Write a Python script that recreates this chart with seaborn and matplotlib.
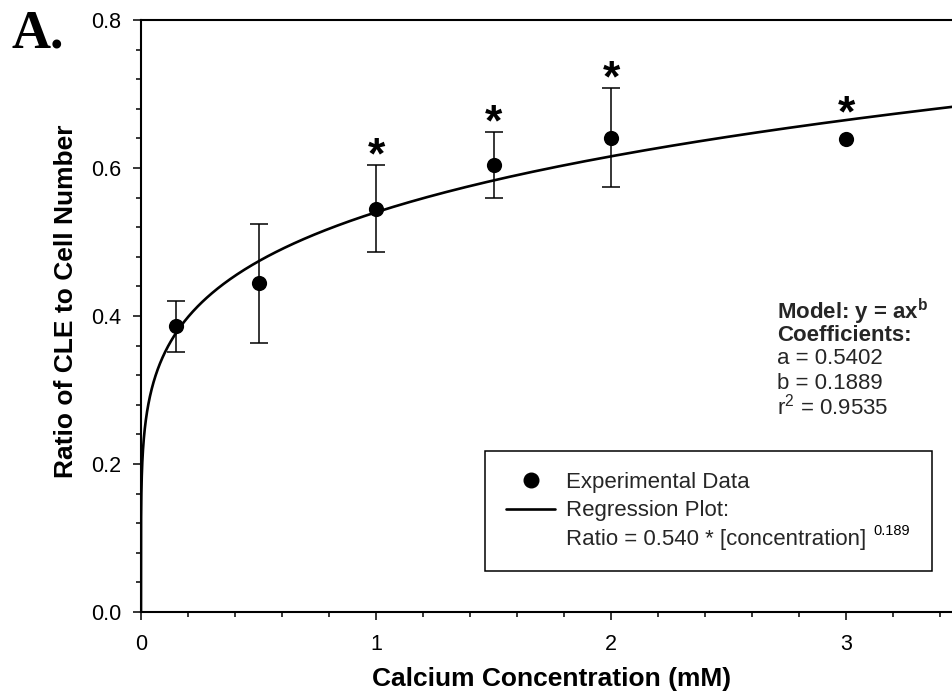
import numpy as np
import pandas as pd
import matplotlib
matplotlib.use("Agg")
import matplotlib.pyplot as plt
from matplotlib.lines import Line2D
from matplotlib.ticker import MultipleLocator, FormatStrFormatter
import seaborn as sns

# Measured CLE / cell number ratios (mean and SD) at each calcium level
concentration = [0.15, 0.5, 1.0, 1.5, 2.0, 3.0]
ratio_mean = [0.386, 0.444, 0.545, 0.604, 0.641, 0.639]
ratio_sd = [0.034, 0.080, 0.059, 0.045, 0.067, 0.0]
significant = [False, False, True, True, True, True]

# Power-law fit  y = a * x^b
coef_a = 0.5402
coef_b = 0.1889
r_squared = 0.9535

x_ticks = [0, 1, 2, 3]
y_ticks = [0.0, 0.2, 0.4, 0.6, 0.8]
x_max = 3.455

sns.set_theme(style="ticks")
plt.rcParams["font.family"] = ["Liberation Sans", "DejaVu Sans"]
plt.rcParams["mathtext.fontset"] = "custom"
plt.rcParams["mathtext.rm"] = "Liberation Sans"
plt.rcParams["mathtext.it"] = "Liberation Sans:italic"
plt.rcParams["mathtext.bf"] = "Liberation Sans:bold"

df = pd.DataFrame({"conc": concentration, "ratio": ratio_mean, "sd": ratio_sd,
                   "sig": significant})

fig = plt.figure(figsize=(9.53, 6.98), dpi=100)
ax = fig.add_axes([141 / 953, 86 / 698, 812 / 953, 592 / 698])

# error bars (only where an SD is reported)
bars = df[df["sd"] > 0]
ax.errorbar(bars["conc"], bars["ratio"], yerr=bars["sd"], fmt="none",
            ecolor="black", elinewidth=1.1, capsize=6.5, capthick=1.1, zorder=2)

# regression curve
xf = np.concatenate([[0.0], np.geomspace(1e-6, x_max, 1200)])
fit = pd.DataFrame({"conc": xf, "ratio": coef_a * xf ** coef_b})
sns.lineplot(data=fit, x="conc", y="ratio", color="black", linewidth=1.9,
             estimator=None, ax=ax, zorder=3)

# experimental means
sns.scatterplot(data=df, x="conc", y="ratio", color="black", s=120,
                edgecolor="black", linewidth=0, ax=ax, zorder=4)

# significance markers
star_size = 32
for _, row in df[df["sig"]].iterrows():
    if row["sd"] > 0:
        anchor, gap = row["ratio"] + row["sd"], 16.0
    else:
        anchor, gap = row["ratio"], 27.5
    ax.annotate("*", xy=(row["conc"], anchor), xytext=(0, gap - 0.58 * star_size),
                textcoords="offset points", ha="center", va="baseline",
                fontsize=star_size, fontweight="bold", color="black", zorder=5)

ax.set_xlim(0, x_max)
ax.set_ylim(0, 0.8)
ax.set_xticks(x_ticks)
ax.set_yticks(y_ticks)
ax.xaxis.set_minor_locator(MultipleLocator(0.2))
ax.yaxis.set_minor_locator(MultipleLocator(0.04))
ax.yaxis.set_major_formatter(FormatStrFormatter("%.1f"))
ax.tick_params(which="major", direction="out", length=6, width=1.1,
               color="black", labelsize=15.5, labelcolor="black")
ax.tick_params(which="minor", direction="out", length=3.8, width=1.1, color="black")
ax.tick_params(axis="x", which="major", pad=10)
ax.tick_params(axis="y", which="major", pad=8)
ax.tick_params(top=False, right=False, which="both")

for side in ["left", "bottom", "top"]:
    ax.spines[side].set_visible(True)
    ax.spines[side].set_color("black")
    ax.spines[side].set_linewidth(1.5)
ax.spines["right"].set_visible(False)

ax.set_xlabel("Calcium Concentration (mM)", fontsize=19, fontweight="bold", color="black")
ax.set_ylabel("Ratio of CLE to Cell Number", fontsize=19, fontweight="bold", color="black")
ax.xaxis.set_label_coords(0.506, -0.0926)
ax.yaxis.set_label_coords(-0.0776, 0.5257)

# model summary
tx = 0.7836
ax.text(tx, 0.5073, r"Model: y = ax$^{\mathbf{b}}$", transform=ax.transAxes,
        fontsize=16, fontweight="bold", va="center", ha="left")
ax.text(tx, 0.4679, "Coefficients:", transform=ax.transAxes,
        fontsize=16, fontweight="bold", va="center", ha="left")
ax.text(tx, 0.4274, f"a = {coef_a:.4f}", transform=ax.transAxes,
        fontsize=16, va="center", ha="left")
ax.text(tx, 0.3868, f"b = {coef_b:.4f}", transform=ax.transAxes,
        fontsize=16, va="center", ha="left")
ax.text(tx, 0.3463, f"r$^{{2}}$ = {r_squared:.4f}", transform=ax.transAxes,
        fontsize=16, va="center", ha="left")

# legend: the fitted equation sits on its own row under the line entry
handles = [
    Line2D([], [], marker="o", linestyle="none", color="black", markersize=10.5),
    Line2D([], [], color="black", linewidth=1.9),
    Line2D([], [], linestyle="none", marker=None),
]
labels = [
    "Experimental Data",
    "Regression Plot:",
    f"Ratio = {coef_a:.3f} * [concentration]",
]
leg = ax.legend(handles, labels, loc="upper left",
                bbox_to_anchor=(0.4236, 0.0, 0.5505, 0.272), mode="expand",
                borderaxespad=0, fontsize=16, frameon=True, fancybox=False,
                edgecolor="black", framealpha=1, borderpad=0.95, handlelength=2.2,
                handletextpad=0.5, labelspacing=0.33)
leg.get_frame().set_linewidth(1.1)

# exponent of the fitted equation, raised after the closing bracket
eq_text = leg.get_texts()[2]
ax.annotate(f"{coef_b:.3f}", xy=(1, 1), xycoords=eq_text, xytext=(5, 3.5),
            textcoords="offset points", ha="left", va="top", fontsize=10.5,
            color="black", zorder=10)

fig.text(12 / 953, 1 - 47 / 698, "A.", ha="left", va="baseline",
         fontfamily="Liberation Serif", fontweight="bold", fontsize=39, color="black")

fig.savefig("out.png", dpi=100)
